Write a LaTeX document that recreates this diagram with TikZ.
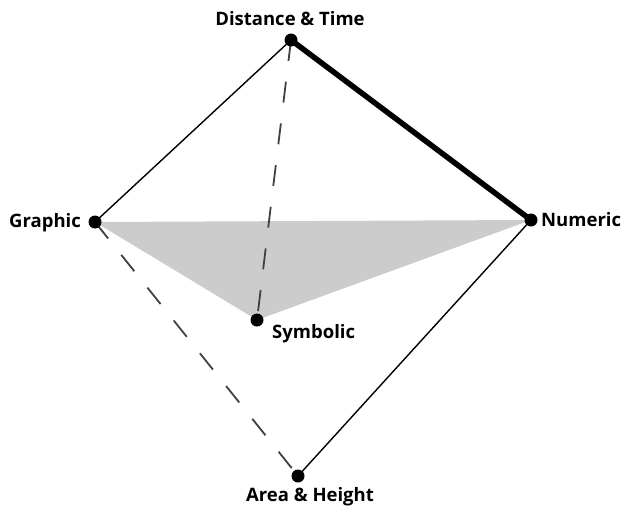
\documentclass[tikz,border=0pt]{standalone}
\usepackage{fontspec}
\setmainfont{Open Sans}
\begin{document}
\begin{tikzpicture}[x=1pt,y=-1pt,
  pt/.style={circle,fill=black,inner sep=0pt,minimum size=13pt},
  lbl/.style={font=\bfseries\fontsize{18.5}{20}\selectfont,inner sep=0pt},
  thin edge/.style={line width=1.4pt},
  dash edge/.style={line width=1.8pt,dash pattern=on 21pt off 21pt,color=black!75},
  heavy edge/.style={line width=5.5pt}]
\useasboundingbox (0,0) rectangle (624,507);
\coordinate (D) at (291,40);
\coordinate (G) at (95,222);
\coordinate (N) at (531,220);
\coordinate (S) at (257,320);
\coordinate (A) at (298,476);
\fill[black!20] (G) -- (N) -- (S) -- cycle;
\draw[thin edge] (G) -- (D);
\draw[thin edge] (A) -- (N);
\draw[heavy edge] (D) -- (N);
\draw[dash edge] (G) -- (A);
\draw[dash edge] (D) -- (S);
\node[pt] (d) at (D) {};
\node[pt] (g) at (G) {};
\node[pt] (n) at (N) {};
\node[pt] (s) at (S) {};
\node[pt] (a) at (A) {};
\node[lbl,anchor=base] (tD) at (290,25) {Distance \& Time};
\node[lbl,anchor=base west] (tG) at (9,227) {Graphic};
\node[lbl,anchor=base west] (tN) at (541,226) {Numeric};
\node[lbl,anchor=base west] (tS) at (272,338) {Symbolic};
\node[lbl,anchor=base] (tA) at (310,501) {Area \& Height};
\end{tikzpicture}
\end{document}
